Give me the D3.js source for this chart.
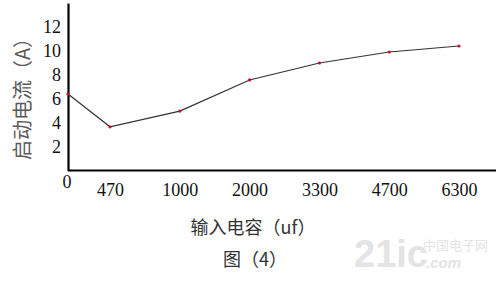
<!DOCTYPE html>
<html>
<head>
<meta charset="utf-8">
<script src="https://cdn.jsdelivr.net/npm/d3@7"></script>
<style>
  body { margin: 0; background: #fff; }
  svg { display: block; }
  .tick text { font-family: "Liberation Serif", "DejaVu Serif", serif; font-size: 18px; fill: #111; }
  .cjk { font-family: "Noto Sans CJK SC", sans-serif; fill: #333; }
</style>
</head>
<body>
<svg width="500" height="281"></svg>
<script>
// 输入电容 (uf) 和 启动电流 (A)
const capacitance = ['0', '470', '1000', '2000', '3300', '4700', '6300'];
const current = [6.4, 3.65, 4.97, 7.57, 8.99, 9.91, 10.41];
const yTicks = [2, 4, 6, 8, 10, 12];

const svg = d3.select('svg');
const plotLeft = 68, plotRight = 496, plotBottom = 170.5;

const xPoint = d3.scalePoint()
    .domain(capacitance.slice(1))
    .range([110, 459]);
// the 0 uf point sits on the y axis
const x = d => d === '0' ? plotLeft : xPoint(d);

const y = d3.scaleLinear()
    .domain([0, 14])
    .range([plotBottom, plotBottom - 14 * 11.96]);

// y axis
const yAxis = svg.append('g')
    .attr('transform', `translate(${plotLeft},0)`)
    .call(d3.axisLeft(y).tickValues(yTicks).tickSize(0).tickPadding(7));
yAxis.select('.domain').attr('stroke', '#000').attr('stroke-width', 2.2);

// x axis
const xAxis = svg.append('g')
    .attr('transform', `translate(0,${plotBottom})`)
    .call(d3.axisBottom(xPoint).tickSize(0).tickPadding(13));
xAxis.select('.domain')
    .attr('d', `M${plotLeft},0H${plotRight}`)
    .attr('stroke', '#000').attr('stroke-width', 2.2);

// "0" label at origin
svg.append('text')
    .attr('x', plotLeft - 1)
    .attr('y', plotBottom + 17)
    .attr('text-anchor', 'middle')
    .style('font-family', '"Liberation Serif", serif')
    .style('font-size', '18px')
    .attr('fill', '#111')
    .text('0');

const data = capacitance.map((c, i) => ({c, v: current[i]}));

svg.append('path')
    .datum(data)
    .attr('fill', 'none')
    .attr('stroke', '#333')
    .attr('stroke-width', 1.2)
    .attr('d', d3.line().x(d => x(d.c)).y(d => y(d.v)));

svg.selectAll('.dot').data(data)
    .enter().append('circle')
    .attr('class', 'dot')
    .attr('cx', d => x(d.c))
    .attr('cy', d => y(d.v))
    .attr('r', 1.6)
    .attr('fill', '#c8102e');

// axis titles
svg.append('text')
    .attr('class', 'cjk')
    .attr('transform', 'translate(30,94) rotate(-90)')
    .attr('text-anchor', 'middle')
    .style('font-size', '20px')
    .style('fill', '#5a5a5a')
    .text('启动电流（A）');

svg.append('text')
    .attr('class', 'cjk')
    .attr('x', 253)
    .attr('y', 234)
    .attr('text-anchor', 'middle')
    .style('font-size', '18px')
    .text('输入电容（uf）');

svg.append('text')
    .attr('class', 'cjk')
    .attr('x', 255)
    .attr('y', 266)
    .attr('text-anchor', 'middle')
    .style('font-size', '18px')
    .text('图（4）');

// watermark
svg.append('text')
    .attr('x', 354)
    .attr('y', 267)
    .style('font-family', '"Liberation Sans", sans-serif')
    .style('font-size', '38px')
    .style('font-weight', 'bold')
    .attr('fill', '#e4e4e4')
    .text('21ic');
svg.append('text')
    .attr('x', 423)
    .attr('y', 250)
    .style('font-family', '"Noto Sans CJK SC", sans-serif')
    .style('font-size', '13px')
    .attr('fill', '#e4e4e4')
    .text('中国电子网');
svg.append('text')
    .attr('x', 426)
    .attr('y', 268)
    .style('font-family', '"Liberation Sans", sans-serif')
    .style('font-size', '15px')
    .style('font-weight', 'bold')
    .style('font-style', 'italic')
    .attr('fill', '#e4e4e4')
    .text('.com');
</script>
</body>
</html>
